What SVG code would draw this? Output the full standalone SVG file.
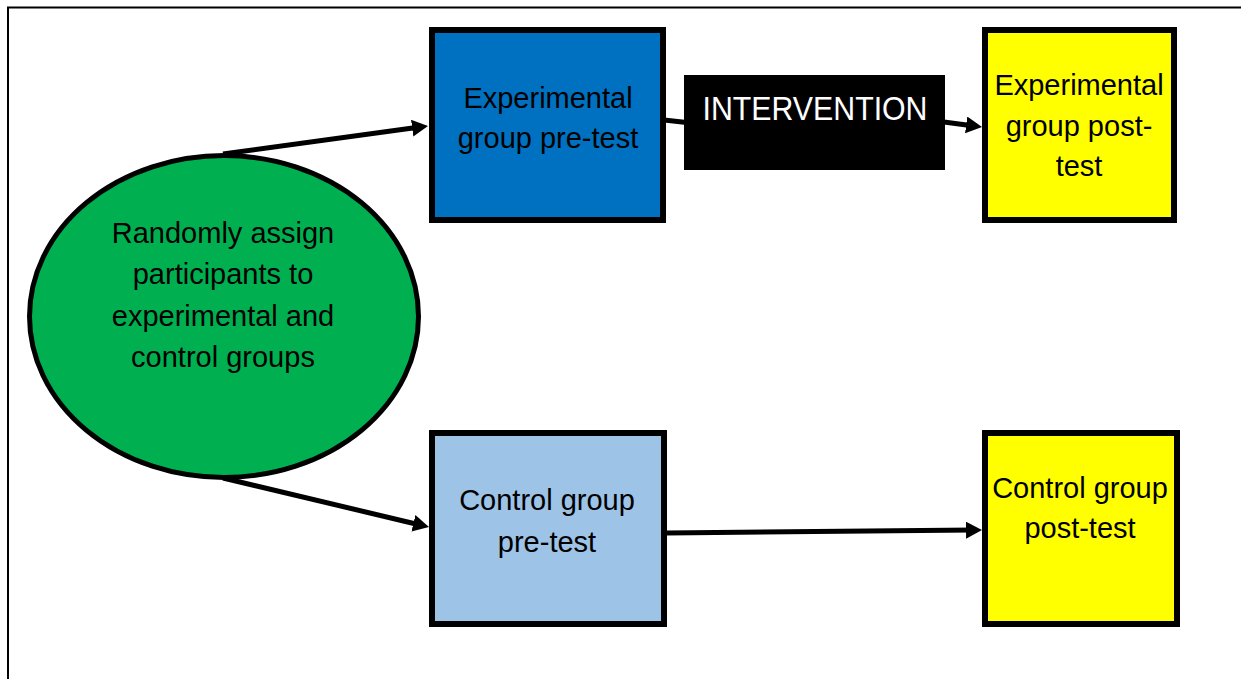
<svg xmlns="http://www.w3.org/2000/svg" width="1241" height="679" viewBox="0 0 1241 679">
<style>
.box{stroke:#000;stroke-width:6}
.lbl{font-family:"Liberation Sans",Arial,sans-serif;font-size:29px;fill:#000;text-anchor:middle}
.conn{fill:none;stroke:#000;stroke-width:5}
</style>
<defs>
<marker id="arr" markerUnits="userSpaceOnUse" markerWidth="18" markerHeight="18" refX="8" refY="8.5" orient="auto">
<path d="M0,0 L16,8.5 L0,17 z" fill="#000"/>
</marker>
</defs>
<rect x="0" y="0" width="1241" height="679" fill="#fff"/>
<rect x="8" y="7.5" width="1300" height="800" fill="none" stroke="#000" stroke-width="2"/>
<g id="connectors">
<path class="conn" d="M223,154 L420.1,127.1" marker-end="url(#arr)"/>
<path class="conn" d="M223,478 L421.2,525.2" marker-end="url(#arr)"/>
<path class="conn" d="M664,120 L700,124 L944,122 L974.1,126" marker-end="url(#arr)"/>
<path class="conn" d="M667,533 L974,530.1" marker-end="url(#arr)"/>
</g>
<g id="random">
<ellipse cx="224" cy="316.5" rx="194.5" ry="161" fill="#00B050" stroke="#000" stroke-width="5"/>
<text class="lbl" x="223" y="243">Randomly assign</text>
<text class="lbl" x="223" y="284">participants to</text>
<text class="lbl" x="223" y="325.5">experimental and</text>
<text class="lbl" x="223" y="366.5">control groups</text>
</g>
<g id="exp-pre">
<rect class="box" x="432" y="30" width="231" height="190" fill="#0070C0"/>
<text class="lbl" x="548" y="108">Experimental</text>
<text class="lbl" x="548" y="148">group pre-test</text>
</g>
<g id="intervention">
<rect x="684" y="75" width="261" height="95" fill="#000"/>
<text x="815" y="120" font-family="Liberation Sans, Arial, sans-serif" font-size="33" fill="#fff" text-anchor="middle" textLength="225" lengthAdjust="spacingAndGlyphs">INTERVENTION</text>
</g>
<g id="exp-post">
<rect class="box" x="985" y="30" width="189" height="190" fill="#FFFF00"/>
<text class="lbl" x="1079" y="95">Experimental</text>
<text class="lbl" x="1079" y="135.5">group post-</text>
<text class="lbl" x="1079" y="176">test</text>
</g>
<g id="ctrl-pre">
<rect class="box" x="432" y="433" width="232" height="191" fill="#9DC3E6"/>
<text class="lbl" x="547" y="510">Control group</text>
<text class="lbl" x="547" y="552">pre-test</text>
</g>
<g id="ctrl-post">
<rect class="box" x="985" y="433" width="192" height="191" fill="#FFFF00"/>
<text class="lbl" x="1080" y="498">Control group</text>
<text class="lbl" x="1080" y="538">post-test</text>
</g>
</svg>
